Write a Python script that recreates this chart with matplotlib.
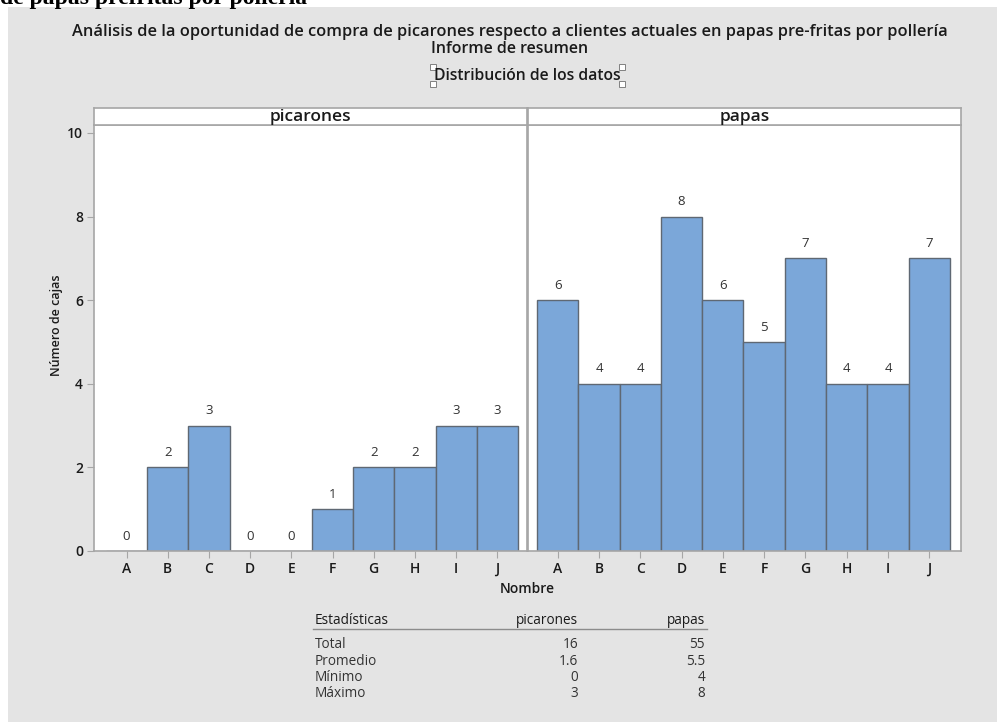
import matplotlib
matplotlib.use('Agg')
import matplotlib.pyplot as plt
from matplotlib.patches import Rectangle

# Datos por pollería
nombres = ['A', 'B', 'C', 'D', 'E', 'F', 'G', 'H', 'I', 'J']
picarones = [0, 2, 3, 0, 0, 1, 2, 2, 3, 3]
papas = [6, 4, 4, 8, 6, 5, 7, 4, 4, 7]
paneles = ['picarones', 'papas']
y_ticks = [0, 2, 4, 6, 8, 10]

W, H = 997, 722
BG = '#e4e4e4'
BAR = '#7ba7d9'
EDGE = '#5f6873'
FRAME = '#a6a6a6'
TXT = '#1a1a1a'

plt.rcParams['font.family'] = ['Open Sans', 'DejaVu Sans']


def box(x0, y0, x1, y1):
    """Pixel box (top-left origin) -> figure fraction rect."""
    return [x0 / W, 1 - y1 / H, (x1 - x0) / W, (y1 - y0) / H]


fig = plt.figure(figsize=(W / 100, H / 100), dpi=100)
fig.patch.set_facecolor('white')
fig.patches.append(Rectangle((8 / W, 0), 1, 1 - 7 / H, transform=fig.transFigure,
                             facecolor=BG, edgecolor='none', zorder=-10))

# texto del documento que queda cortado arriba
fig.text(0 / W, 1 - 4 / H, 'de papas prefritas por pollería', family='Liberation Serif',
         weight='bold', fontsize=17, va='baseline', ha='left', color='black')

fig.text(510 / W, 1 - 32 / H,
         'Análisis de la oportunidad de compra de picarones respecto a clientes actuales en papas pre-fritas por pollería',
         ha='center', va='center', fontsize=11.8, weight='semibold', color=TXT)
fig.text(510 / W, 1 - 49 / H, 'Informe de resumen', ha='center', va='center',
         fontsize=11.5, weight='semibold', color=TXT)
fig.text(527 / W, 1 - 76 / H, 'Distribución de los datos', ha='center', va='center',
         fontsize=11.3, weight='semibold', color=TXT)
for hx, hy in [(433, 67), (433, 84), (622, 67), (622, 84)]:
    fig.patches.append(Rectangle(((hx - 3) / W, 1 - (hy + 3) / H), 6 / W, 6 / H,
                                 transform=fig.transFigure, facecolor='white',
                                 edgecolor='#808080', linewidth=0.7))

series = {'picarones': picarones, 'papas': papas}
limites = {'picarones': (94, 527, -0.79, 9.72), 'papas': (528, 961, -0.72, 9.77)}
pos = list(range(len(nombres)))

for i, nombre in enumerate(paneles):
    x0, x1, xmin, xmax = limites[nombre]
    ax = fig.add_axes(box(x0, 125, x1, 551))
    vals = series[nombre]
    ax.bar(pos, vals, width=1.0, color=BAR, edgecolor=EDGE, linewidth=1.0, zorder=2)
    for p, v in zip(pos, vals):
        ax.annotate(str(v), (p, v), xytext=(0, 6), textcoords='offset points',
                    ha='center', va='bottom', fontsize=9.5, color='#333333')
    ax.set_xlim(xmin, xmax)
    ax.set_ylim(0, 10.19)
    ax.set_xticks(pos)
    ax.set_xticklabels(nombres, fontsize=10, weight='semibold', color=TXT)
    ax.tick_params(axis='x', length=5, color=FRAME, pad=3)
    if i == 0:
        ax.set_yticks(y_ticks)
        ax.set_yticklabels([str(t) for t in y_ticks], fontsize=10, weight='semibold', color=TXT)
        ax.tick_params(axis='y', length=5, color=FRAME, pad=3)
    else:
        ax.set_yticks([])
    for s in ax.spines.values():
        s.set_color(FRAME)
        s.set_linewidth(1.2)

    # encabezado del panel
    hd = fig.add_axes(box(x0, 108, x1, 125))
    hd.set_xticks([])
    hd.set_yticks([])
    for s in hd.spines.values():
        s.set_color(FRAME)
        s.set_linewidth(1.2)
    hd.text(0.5, 0.45, nombre, transform=hd.transAxes, ha='center', va='center',
            fontsize=12.5, weight='semibold', color=TXT)

fig.text(527 / W, 1 - 589 / H, 'Nombre', ha='center', va='center', fontsize=10,
         weight='semibold', color=TXT)
fig.text(56 / W, 1 - 325 / H, 'Número de cajas', ha='center', va='center', fontsize=9,
         weight='semibold', color=TXT, rotation=90)

# tabla de estadísticas
filas = [
    ('Total', sum(picarones), sum(papas)),
    ('Promedio', sum(picarones) / len(picarones), sum(papas) / len(papas)),
    ('Mínimo', min(picarones), min(papas)),
    ('Máximo', max(picarones), max(papas)),
]


def fmt(v):
    return str(int(v)) if float(v).is_integer() else '{:.1f}'.format(v)


fig.text(315 / W, 1 - 620 / H, 'Estadísticas', ha='left', va='center', fontsize=9.8, color=TXT)
fig.text(578 / W, 1 - 620 / H, 'picarones', ha='right', va='center', fontsize=9.8, color=TXT)
fig.text(705 / W, 1 - 620 / H, 'papas', ha='right', va='center', fontsize=9.8, color=TXT)
fig.add_artist(plt.Line2D([313 / W, 707 / W], [1 - 629 / H, 1 - 629 / H],
                          color='#8c8c8c', linewidth=1.0))
for k, (lab, a, b) in enumerate(filas):
    y = 1 - (645 + 16.3 * k) / H
    fig.text(315 / W, y, lab, ha='left', va='center', fontsize=9.8, color='#333333')
    fig.text(578 / W, y, fmt(a), ha='right', va='center', fontsize=9.8, color='#333333')
    fig.text(705 / W, y, fmt(b), ha='right', va='center', fontsize=9.8, color='#333333')

fig.savefig('out.png', dpi=100, facecolor=fig.get_facecolor())
